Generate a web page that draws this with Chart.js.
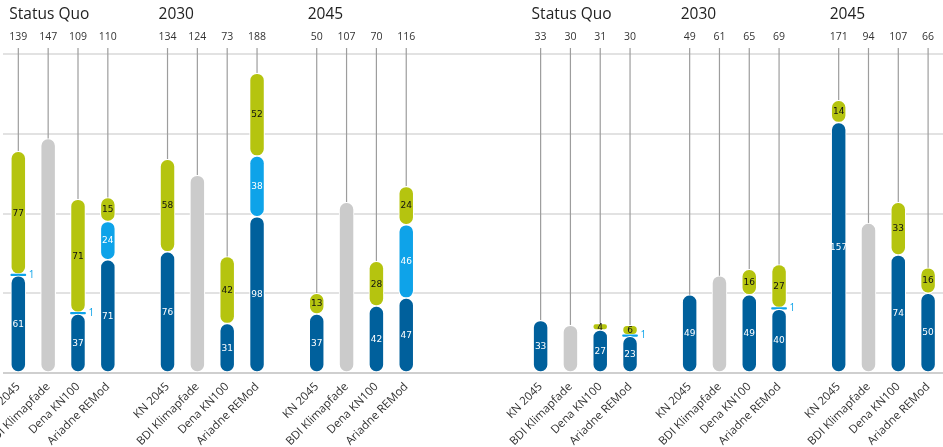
<!DOCTYPE html>
<html>
<head>
<meta charset="utf-8">
<script src="https://cdn.jsdelivr.net/npm/chart.js@4/dist/chart.umd.min.js"></script>
<style>
  html, body { margin: 0; padding: 0; background: #fff; overflow: hidden; }
  #wrap { position: relative; width: 943px; height: 447px; }
  canvas { position: absolute; top: 0; }
  #left { left: 0; }
  #right { left: 430px; }
</style>
</head>
<body>
<div id="wrap">
  <canvas id="left" width="451" height="447"></canvas>
  <canvas id="right" width="513" height="447"></canvas>
</div>
<script>
// Periods and scenarios (each period lists the four scenarios in this order)
const periods = ['Status Quo', '2030', '2045'];
const scenarios = ['KN 2045', 'BDI Klimapfade', 'Dena KN100', 'Ariadne REMod'];

// Left panel: stacked parts per period x scenario (null = no part)
const leftDark   = [61, null, 37, 71,   76, null, 31, 98,   37, null, 42, 47];
const leftLight  = [ 1, null,  1, 24, null, null, null, 38, null, null, null, 46];
const leftGreen  = [77, null, 71, 15,   58, null, 42, 52,   13, null, 28, 24];
const leftGrey   = [null, 147, null, null, null, 124, null, null, null, 107, null, null];
const leftTotals = [139, 147, 109, 110, 134, 124, 73, 188, 50, 107, 70, 116];

// Right panel
const rightDark   = [33, null, 27, 23,   49, null, 49, 40,   157, null, 74, 50];
const rightLight  = [null, null, null, 1, null, null, null, 1, null, null, null, null];
const rightGreen  = [null, null, 4, 6,   null, null, 16, 27,   14, null, 33, 16];
const rightGrey   = [null, 30, null, null, null, 61, null, null, null, 94, null, null];
const rightTotals = [33, 30, 31, 30, 49, 61, 65, 69, 171, 94, 107, 66];

const COLORS = { dark: '#00609c', light: '#0ea3e9', green: '#b5c40f', grey: '#cbcbcb' };
const FONT = "'Open Sans', 'Liberation Sans', sans-serif";
Chart.defaults.font.family = FONT;

// Slot list for a panel: index into the 12-value arrays, or -1 for a spacer slot
function buildSlots(lead, trail) {
  const slots = [];
  for (let i = 0; i < lead; i++) slots.push(-1);
  periods.forEach((p, g) => {
    if (g > 0) slots.push(-1);
    scenarios.forEach((s, k) => slots.push(g * 4 + k));
  });
  for (let i = 0; i < trail; i++) slots.push(-1);
  return slots;
}

// Turn stacked parts into floating [from, to] bars so every part keeps rounded ends
function floatingParts(slots, series) {
  const out = series.map(() => []);
  slots.forEach(idx => {
    let base = 0;
    series.forEach((arr, s) => {
      const v = idx < 0 ? null : arr[idx];
      if (v == null) { out[s].push(null); return; }
      out[s].push([base, base + v]);
      base += v;
    });
  });
  return out;
}

const annotate = {
  id: 'annotate',
  beforeDatasetsDraw(chart) {
    const { ctx, chartArea } = chart;
    const slots = chart.options.plugins.annotate.slots;
    ctx.save();
    ctx.strokeStyle = '#9d9d9d';
    ctx.lineWidth = 1.2;
    slots.forEach((idx, i) => {
      if (idx < 0) return;
      let top = Infinity, x = null;
      chart.data.datasets.forEach((ds, d) => {
        const el = chart.getDatasetMeta(d).data[i];
        if (ds.data[i] == null || !el) return;
        top = Math.min(top, el.y, el.base);
        x = el.x;
      });
      if (x == null) return;
      ctx.beginPath();
      ctx.moveTo(x, chartArea.top - 6);
      ctx.lineTo(x, top + 2);
      ctx.stroke();
    });
    ctx.restore();
  },
  afterDatasetsDraw(chart) {
    const { ctx } = chart;
    ctx.save();
    ctx.textAlign = 'center';
    ctx.textBaseline = 'middle';
    chart.data.datasets.forEach((ds, d) => {
      if (!ds.labelColor) return;
      const meta = chart.getDatasetMeta(d);
      ds.data.forEach((pair, i) => {
        if (pair == null) return;
        const el = meta.data[i];
        const v = Math.round(pair[1] - pair[0]);
        const cy = (el.y + el.base) / 2;
        if (v <= 1) {
          ctx.font = "10px " + FONT;
          ctx.fillStyle = COLORS.light;
          ctx.textAlign = 'left';
          ctx.fillText(String(v), el.x + el.width / 2 + 3, cy);
          ctx.textAlign = 'center';
        } else {
          ctx.font = "9px 'DejaVu Sans', sans-serif";
          ctx.fillStyle = ds.labelColor;
          ctx.fillText(String(v), el.x, cy + 0.5);
        }
      });
    });
    ctx.restore();
  },
  afterDraw(chart) {
    const { ctx } = chart;
    const slots = chart.options.plugins.annotate.slots;
    const xs = chart.scales.x;
    ctx.save();
    ctx.font = "15.5px " + FONT;
    ctx.fillStyle = '#222';
    ctx.textAlign = 'left';
    ctx.textBaseline = 'middle';
    periods.forEach((p, g) => {
      const i = slots.indexOf(g * 4);
      ctx.fillText(p, xs.getPixelForValue(i) - 9, 15);
    });
    ctx.restore();
  }
};

function makeChart(id, lead, trail, dark, light, green, grey, totals, padLeft) {
  const slots = buildSlots(lead, trail);
  const [dS, lS, gS] = floatingParts(slots, [dark, light, green]);
  const greyS = slots.map(i => (i < 0 || grey[i] == null) ? null : [0, grey[i]]);
  const xLabels = slots.map(i => i < 0 ? '' : scenarios[i % 4]);
  const topLabels = slots.map(i => i < 0 ? '' : String(totals[i]));

  const common = {
    grouped: false,
    barThickness: 15,
    borderRadius: 8,
    borderSkipped: false,
    borderColor: '#ffffff',
    xAxisID: 'x',
    yAxisID: 'y'
  };

  return new Chart(document.getElementById(id), {
    type: 'bar',
    data: {
      labels: xLabels,
      datasets: [
        Object.assign({ label: 'grey', data: greyS, backgroundColor: COLORS.grey, borderWidth: 1.1, labelColor: null }, common),
        Object.assign({ label: 'dark', data: dS, backgroundColor: COLORS.dark, borderWidth: 1.1, labelColor: '#ffffff' }, common),
        Object.assign({ label: 'light', data: lS, backgroundColor: COLORS.light, labelColor: '#ffffff',
          borderWidth: c => {
            const r = c.raw;
            return (r && r[1] - r[0] <= 1) ? 0 : 1.1;
          } }, common),
        Object.assign({ label: 'green', data: gS, backgroundColor: COLORS.green, borderWidth: 1.1, labelColor: '#111111' }, common)
      ]
    },
    options: {
      responsive: false,
      animation: false,
      devicePixelRatio: 1,
      events: [],
      layout: { padding: { left: padLeft, right: 0, top: 0, bottom: 0 } },
      plugins: {
        legend: { display: false },
        tooltip: { enabled: false },
        annotate: { slots }
      },
      scales: {
        x: {
          type: 'category',
          offset: true,
          grid: { display: false, drawTicks: false },
          border: { display: false },
          ticks: { autoSkip: false, minRotation: 45, maxRotation: 45, padding: 7, color: '#333', font: { size: 11.5 } },
          afterFit(s) { s.height = 74; s.paddingLeft = 0; s.paddingRight = 0; }
        },
        xTop: {
          type: 'category',
          position: 'top',
          labels: topLabels,
          offset: true,
          grid: { display: false, drawTicks: false },
          border: { display: false },
          ticks: { autoSkip: false, maxRotation: 0, minRotation: 0, padding: 11, color: '#333', font: { size: 10.5 } },
          afterFit(s) { s.height = 54; s.paddingLeft = 0; s.paddingRight = 0; }
        },
        y: {
          min: 0,
          max: 200,
          ticks: { display: false, stepSize: 50 },
          grid: {
            drawTicks: false,
            lineWidth: 2,
            color: c => (c.tick && c.tick.value === 0) ? '#cfcfcf' : '#e2e2e2'
          },
          border: { display: false },
          afterFit(s) { s.width = 0; }
        }
      }
    },
    plugins: [annotate]
  });
}

makeChart('left', 0, 1, leftDark, leftLight, leftGreen, leftGrey, leftTotals, 3.4);
makeChart('right', 3, 0, rightDark, rightLight, rightGreen, rightGrey, rightTotals, 6.3);
</script>
</body>
</html>
